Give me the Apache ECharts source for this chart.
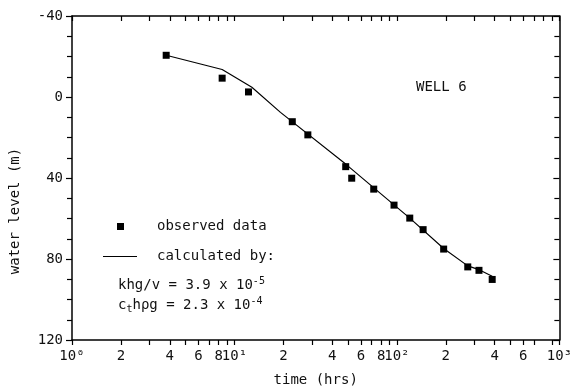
<!DOCTYPE html>
<html>
<head>
<meta charset="utf-8">
<script src="https://cdn.jsdelivr.net/npm/echarts@6/dist/echarts.min.js"></script>
<style>
  html, body { margin: 0; padding: 0; background: #fff; }
  #chart { width: 575px; height: 392px; }
</style>
</head>
<body>
<div id="chart"></div>
<script>
// observed drawdown, WELL 6
const obsTime = [3.8, 8.4, 12.2, 22.7, 28.3, 48.4, 52.7, 72, 96, 120, 145, 194, 273, 320, 386]
const obsLevel = [-20.6, -9.3, -2.5, 12.2, 18.7, 34.4, 40.1, 45.5, 53.4, 59.8, 65.5, 75.1, 83.9, 85.6, 90.1]

// calculated curve
const calcTime = [3.8, 8.4, 12.8, 19.2, 49, 120, 194, 273, 323, 386]
const calcLevel = [-20.6, -13.6, -4.8, 7.6, 33.5, 59.8, 74.8, 83.4, 85.4, 88.5]

const xTicks = [1, 2, 3, 4, 5, 6, 7, 8, 9, 10, 20, 30, 40, 50, 60, 70, 80, 90, 100,
  200, 300, 400, 500, 600, 700, 800, 900, 1000]
const xLabels = [1, 2, 4, 6, 8, 10, 20, 40, 60, 80, 100, 200, 400, 600, 800, 1000]
const decadeText = { 1: '10⁰', 10: '10¹', 100: '10²', 1000: '10³' }

const FONT = 'DejaVu Sans Mono'
const txt = { fontFamily: FONT, fontSize: 14, color: '#111' }

const xLabelFmt = v => decadeText[v] || String(v).charAt(0)

const option = {
  animation: false,
  backgroundColor: '#fff',
  grid: { left: 71, top: 16, right: 15, bottom: 49 },
  xAxis: [
    {
      type: 'log',
      min: 1,
      max: 1000,
      position: 'bottom',
      name: 'time (hrs)',
      nameLocation: 'middle',
      nameGap: 33,
      nameTextStyle: txt,
      axisLine: { onZero: false, lineStyle: { color: '#000', width: 1.5 } },
      axisTick: { inside: false, length: 5, customValues: xTicks, lineStyle: { color: '#000', width: 1.2 } },
      axisLabel: {
        ...txt, margin: 9, customValues: xLabels, formatter: xLabelFmt,
        showMinLabel: true, showMaxLabel: true, hideOverlap: false,
      },
      splitLine: { show: false },
    },
    {
      type: 'log',
      min: 1,
      max: 1000,
      position: 'top',
      axisLine: { onZero: false, lineStyle: { color: '#000', width: 1.5 } },
      axisTick: { inside: true, length: 5, customValues: xTicks, lineStyle: { color: '#000', width: 1.2 } },
      axisLabel: { show: false },
      splitLine: { show: false },
    },
  ],
  yAxis: [
    {
      type: 'value',
      min: -40,
      max: 120,
      interval: 40,
      inverse: true,
      position: 'left',
      name: 'water level (m)',
      nameLocation: 'middle',
      nameGap: 50,
      nameTextStyle: { ...txt, padding: [0, 66, 0, 0] },
      axisLine: { onZero: false, lineStyle: { color: '#000', width: 1.5 } },
      axisTick: { inside: false, length: 6, lineStyle: { color: '#000', width: 1.2 } },
      minorTick: { show: true, splitNumber: 4, length: 5, lineStyle: { color: '#000', width: 1.2 } },
      axisLabel: { ...txt, margin: 9 },
      splitLine: { show: false },
    },
    {
      type: 'value',
      min: -40,
      max: 120,
      interval: 40,
      inverse: true,
      position: 'right',
      axisLine: { onZero: false, lineStyle: { color: '#000', width: 1.5 } },
      axisTick: { inside: true, length: 6, lineStyle: { color: '#000', width: 1.2 } },
      minorTick: { show: true, splitNumber: 4, length: 5, lineStyle: { color: '#000', width: 1.2 } },
      axisLabel: { show: false },
      splitLine: { show: false },
    },
  ],
  series: [
    {
      name: 'calculated by:',
      type: 'line',
      showSymbol: false,
      symbol: 'none',
      lineStyle: { color: '#000', width: 1.2 },
      data: calcTime.map((t, i) => [t, calcLevel[i]]),
      z: 2,
    },
    {
      name: 'observed data',
      type: 'scatter',
      symbol: 'rect',
      symbolSize: 7,
      itemStyle: { color: '#000', opacity: 1 },
      data: obsTime.map((t, i) => [t, obsLevel[i]]),
      z: 3,
    },
  ],
  graphic: [
    { type: 'text', left: 416, top: 80, style: { text: 'WELL 6', font: '14px ' + FONT, fill: '#111' } },
    { type: 'rect', shape: { x: 117, y: 223, width: 7, height: 7 }, style: { fill: '#000' } },
    { type: 'text', left: 157, top: 219, style: { text: 'observed data', font: '14px ' + FONT, fill: '#111' } },
    { type: 'line', shape: { x1: 103, y1: 256.5, x2: 137, y2: 256.5 }, style: { stroke: '#000', lineWidth: 1 } },
    { type: 'text', left: 157, top: 249, style: { text: 'calculated by:', font: '14px ' + FONT, fill: '#111' } },
    {
      type: 'text', left: 118, top: 276,
      style: {
        text: 'khg/v = 3.9 x 10{sup|-5}',
        font: '14px ' + FONT, fill: '#111',
        rich: { sup: { fontFamily: FONT, fontSize: 10, verticalAlign: 'top', padding: [0, 0, 8, 0] } },
      },
    },
    {
      type: 'text', left: 118, top: 296,
      style: {
        text: 'c{sub|t}hρg = 2.3 x 10{sup|-4}',
        font: '14px ' + FONT, fill: '#111',
        rich: {
          sub: { fontFamily: FONT, fontSize: 10, padding: [8, 0, 0, 0] },
          sup: { fontFamily: FONT, fontSize: 10, padding: [0, 0, 8, 0] },
        },
      },
    },
  ],
}

const myChart = echarts.init(document.getElementById('chart'), null, { renderer: 'canvas' })
myChart.setOption(option)
</script>
</body>
</html>
